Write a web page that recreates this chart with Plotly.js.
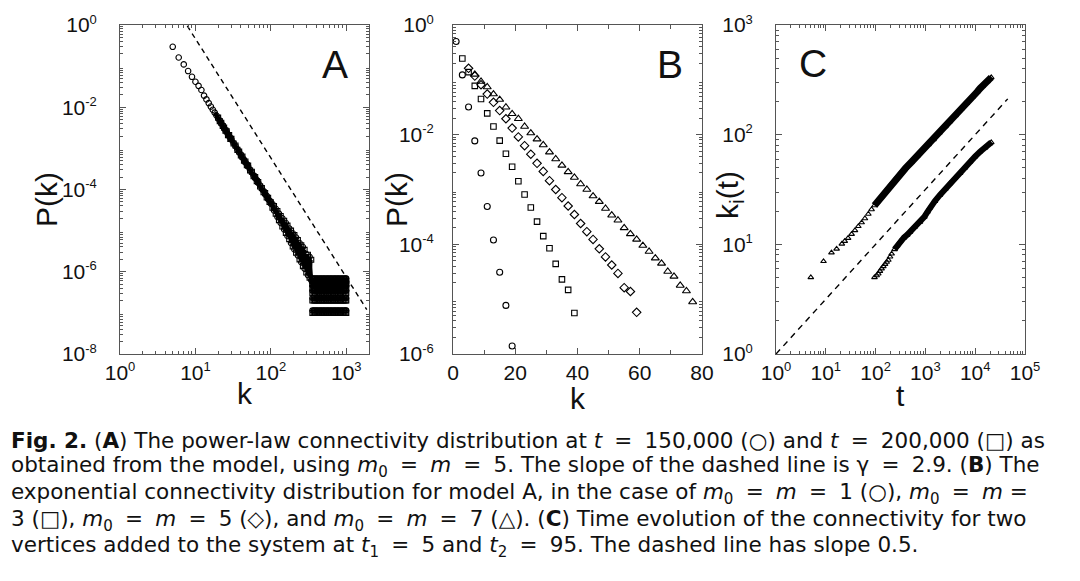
<!DOCTYPE html>
<html>
<head>
<meta charset="utf-8">
<script src="https://cdn.plot.ly/plotly-3.0.1.min.js"></script>
<style>body{margin:0;background:#fff}#chart{width:1080px;height:581px}</style>
</head>
<body>
<div id="chart"></div>
<script>
// Panel A: power-law P(k), t = 150,000 (circles) and t = 200,000 (squares)
let kA150 = [5,6,7,8,9,10,11,12,13,14,15,16,17,18,19,20,21,22,23,24,25,26,27,28,29,30,
  32,34,36,38,40,42,44,46,48,50,53,56,59,62,65,68,72,76,80,84,88,92,96,100,
  105,110,116,122,128,135,142,150,158,166,175,185,195,205,216,228,240,253,266,280,295,310,326,343];
let pA150 = [0.295,0.162,0.110,0.0759,0.0550,0.0417,0.0331,0.0263,0.0192,0.0155,0.0126,0.0104,0.0087,0.0074,0.0063,0.0054,
  0.0047,0.0041,0.0036,0.0031,0.0028,0.0025,0.0022,0.0020,0.0018,0.00163,
  0.00135,0.00113,0.00095,0.00081,0.00070,0.00060,0.00053,0.00046,0.00041,0.00036,
  3.0e-4,2.6e-4,2.2e-4,1.9e-4,1.7e-4,1.45e-4,1.25e-4,1.03e-4,9.2e-5,7.6e-5,7.0e-5,5.8e-5,5.4e-5,4.5e-5,
  4.45e-5,3.08e-5,3.39e-5,2.16e-5,2.59e-5,1.53e-5,2.0e-5,1.07e-5,1.53e-5,7.4e-6,1.13e-5,5.0e-6,
  8.6e-6,3.5e-6,6.8e-6,2.5e-6,5.0e-6,1.7e-6,4.0e-6,1.18e-6,2.7e-6,8.3e-7,2.3e-6,6.2e-7];
let kA200 = [20,21,22,23,24,25,26,27,28,29,30,32,34,36,38,40,42,44,46,48,50,
  53,56,59,62,65,68,72,76,80,84,88,92,96,100,
  105,110,116,122,128,135,142,150,158,166,175,185,195,205,216,228,240,253,266,280,295,310,326,343];
let pA200 = [0.0056,0.0046,0.0042,0.0035,0.0032,0.0027,0.0026,0.0021,0.0021,0.0017,0.0017,
  0.00131,0.00117,0.00092,0.00084,0.00067,0.00063,0.00050,0.00048,0.00039,0.00038,
  2.9e-4,2.7e-4,2.1e-4,2.0e-4,1.6e-4,1.52e-4,1.18e-4,1.09e-4,8.6e-5,8.2e-5,6.4e-5,6.3e-5,5.0e-5,4.9e-5,
  3.6e-5,3.96e-5,2.57e-5,2.99e-5,1.8e-5,2.27e-5,1.26e-5,1.74e-5,8.8e-6,1.32e-5,6.2e-6,1.0e-5,
  4.1e-6,7.8e-6,2.9e-6,5.9e-6,2.0e-6,4.4e-6,1.37e-6,3.4e-6,9.6e-7,2.6e-6,7.2e-7,1.95e-6];
// tail: degrees seen only once, twice, ... (discrete levels)
let tailK = [355,370,385,400,418,436,455,475,495,517,540,563,588,613,640,668,697,727,759,792,826,862,900,940,980,1000];
let tailP150 = [1.15e-7,2.3e-7,3.45e-7,4.6e-7,5.75e-7,6.9e-7];
let tailP200 = [1.0e-7,2.0e-7,3.0e-7,4.0e-7,5.0e-7,6.0e-7];
let slopeAk = [7.8, 1870];
let slopeAp = [0.95, 1.2e-7];

// Panel B: exponential P(k) for model A
let kB1 = [1,3,5,7,9,11,13,15,17,19];
let pB1 = [0.50,0.123,0.032,7.7e-3,2.0e-3,4.9e-4,1.2e-4,3.1e-5,7.7e-6,1.4e-6];
let kB3 = [3,5,7,9,11,13,15,17,19,21,23,25,27,29,31,33,35,37,39];
let pB3 = [0.245,0.138,0.0776,0.0447,0.0245,0.0141,7.8e-3,4.5e-3,2.6e-3,1.41e-3,8.1e-4,4.7e-4,2.6e-4,1.41e-4,8.5e-5,4.4e-5,2.3e-5,1.48e-5,5.6e-6];
let kB5 = [5,7,9,11,13,15,17,19,21,23,25,27,29,31,33,35,37,39,41,43,45,47,49,51,53,55,57,59];
let pB5 = [0.162,0.117,0.0813,0.0550,0.0389,0.0275,0.0195,0.0132,9.1e-3,6.3e-3,4.4e-3,3.0e-3,2.14e-3,1.45e-3,1.0e-3,7.1e-4,
  5.0e-4,3.5e-4,2.4e-4,1.7e-4,1.23e-4,8.3e-5,5.9e-5,4.2e-5,2.95e-5,1.62e-5,1.38e-5,5.75e-6];
let kB7 = [7,9,11,13,15,17,19,21,23,25,27,29,31,33,35,37,39,41,43,45,47,49,51,53,55,57,59,61,63,65,67,69,71,73,75,77];
let pB7 = [0.126,0.0933,0.0741,0.055,0.0437,0.0316,0.024,0.0195,0.0141,0.0107,8.3e-3,6.5e-3,4.8e-3,3.6e-3,2.75e-3,2.1e-3,
  1.66e-3,1.26e-3,1.0e-3,7.6e-4,6.0e-4,4.5e-4,3.4e-4,2.75e-4,2.0e-4,1.55e-4,1.23e-4,9.5e-5,7.4e-5,5.6e-5,4.5e-5,3.2e-5,
  2.6e-5,1.78e-5,1.41e-5,8.9e-6];

// Panel C: k_i(t) for vertices added at t1 = 5 and t2 = 95
let tC1 = [5,9,13,16.5,21,24,28,33,38.5,45,52.5,61,71.5,83,95,110,130,160,200,250,
  310,400,520,680,880,1150,1450,1900,2500,3100,4000,5200,6750,8700,11000,12500,14000,17500,20000,21000];
let kC1 = [5,7,8.4,9.1,10.1,10.7,11.4,12.4,13.4,14.6,15.8,17.2,18.9,20.8,22.6,24.6,27.2,30.8,35.0,39.5,
  44.4,49.5,56,63.5,72.5,81.5,90.5,104,119,132,150,171,194,220,246,264,278,306,325,333];
let tC2 = [95,105,113,122,132,143,155,167,180,195,210,240,270,309,370,430,491,600,778,950,
  1100,1230,1550,1960,2500,3100,3900,4950,6200,7870,9900,12500,15800,19900,21000];
let kC2 = [5.0,5.2,5.4,5.7,6.0,6.3,6.6,6.9,7.2,7.7,8.2,9.0,9.7,10.6,11.5,12.2,13.0,14.3,16.0,17.8,
  19.8,21.6,24.8,28.2,32.0,36.0,40.2,44.6,50.0,56.6,63.0,69.8,76.0,83.0,85.0];
let slopeCt = [1, 45000];
let slopeCk = [1, 212];

function levelsGrid(ks, levels) {
  let x = [], y = [];
  levels.forEach(p => ks.forEach(k => { x.push(k); y.push(p); }));
  return {x: x, y: y};
}

function minorLog(lo, hi) {
  let v = [];
  for (let d = lo; d < hi; d++) {
    for (let m = 2; m <= 9; m++) v.push(m * Math.pow(10, d));
  }
  return v;
}

// small raised exponent, as on the original axes
function pow10Text(list) {
  return list.map(e => "10<sup><span style='font-size:13px'>" + e + "</span></sup>");
}

function after(xs, ys, start) {
  let x = [], y = [];
  xs.forEach((v, i) => { if (v >= start) { x.push(v); y.push(ys[i]); } });
  return {x: x, y: y};
}

let ink = "#000";
let frame = "#555";
let tickFont = {family: "Liberation Sans, Arial, sans-serif", size: 21, color: "#111"};

function marker(symbol, size) {
  return {symbol: symbol, size: size, color: ink, line: {color: ink, width: 1.1}};
}

function axis(extra) {
  let base = {
    showline: true, linecolor: frame, linewidth: 1, mirror: "ticks",
    ticks: "inside", ticklen: 6, tickcolor: frame, tickwidth: 1,
    showgrid: false, zeroline: false, tickfont: tickFont, fixedrange: true
  };
  return Object.assign(base, extra);
}

// wide spacing round "=" as in the typeset caption
function eq(s) {
  return s.split(" = ").join("\u2005 = \u2005");
}

function createChart() {
  let tail150 = levelsGrid(tailK, tailP150);
  let tail200 = levelsGrid(tailK, tailP200);
  let band150 = after(kA150, pA150, 18);
  let thick1 = after(tC1, kC1, 90);
  let thick2 = after(tC2, kC2, 220);

  let traces = [
    // A
    {x: band150.x, y: band150.y, mode: "lines", line: {color: ink, width: 4}, xaxis: "x", yaxis: "y"},
    {x: kA200, y: pA200, mode: "lines+markers", line: {color: ink, width: 3}, marker: marker("square-open", 5), xaxis: "x", yaxis: "y"},
    {x: tail200.x, y: tail200.y, mode: "markers", marker: marker("square-open", 5), xaxis: "x", yaxis: "y"},
    {x: kA150, y: pA150, mode: "markers", marker: marker("circle-open", 5.5), xaxis: "x", yaxis: "y"},
    {x: tail150.x, y: tail150.y, mode: "markers", marker: marker("circle-open", 5), xaxis: "x", yaxis: "y"},
    {x: slopeAk, y: slopeAp, mode: "lines", line: {color: ink, width: 1.4, dash: "5px,4px"}, xaxis: "x", yaxis: "y"},
    // B
    {x: kB1, y: pB1, mode: "markers", marker: marker("circle-open", 6), xaxis: "x2", yaxis: "y2"},
    {x: kB3, y: pB3, mode: "markers", marker: marker("square-open", 5.5), xaxis: "x2", yaxis: "y2"},
    {x: kB5, y: pB5, mode: "markers", marker: marker("diamond-open", 6.5), xaxis: "x2", yaxis: "y2"},
    {x: kB7, y: pB7, mode: "markers", marker: marker("triangle-up-open", 7), xaxis: "x2", yaxis: "y2"},
    // C
    {x: thick1.x, y: thick1.y, mode: "lines", line: {color: ink, width: 7}, xaxis: "x3", yaxis: "y3"},
    {x: thick2.x, y: thick2.y, mode: "lines", line: {color: ink, width: 6}, xaxis: "x3", yaxis: "y3"},
    {x: tC1, y: kC1, mode: "markers", marker: marker("triangle-up-open", 5), xaxis: "x3", yaxis: "y3"},
    {x: tC2, y: kC2, mode: "markers", marker: marker("triangle-up-open", 5), xaxis: "x3", yaxis: "y3"},
    {x: slopeCt, y: slopeCk, mode: "lines", line: {color: ink, width: 1.4, dash: "6px,5px"}, xaxis: "x3", yaxis: "y3"}
  ];

  let yDom = [1 - 354 / 581, 1 - 25 / 581];
  let minorStyle = {ticks: "inside", ticklen: 3, tickcolor: frame, tickmode: "array"};

  let titleFont = {family: "Liberation Sans, Arial, sans-serif", size: 30, color: "#111"};
  let letterFont = {family: "Liberation Sans, Arial, sans-serif", size: 39, color: "#111"};
  let capFont = {family: "DejaVu Sans, sans-serif", size: 21.5, color: "#111"};

  function px(x) { return x / 1080; }
  function py(y) { return 1 - y / 581; }
  function label(text, x, y, font, angle) {
    return {text: text, x: px(x), y: py(y), xref: "paper", yref: "paper", showarrow: false,
      xanchor: "center", yanchor: "middle", font: font, textangle: angle || 0};
  }
  function capLine(text, y) {
    return {text: eq(text), x: px(9), y: py(y), xref: "paper", yref: "paper", showarrow: false,
      xanchor: "left", yanchor: "middle", align: "left", font: capFont};
  }

  let layout = {
    width: 1080, height: 581,
    margin: {l: 0, r: 0, t: 0, b: 0},
    paper_bgcolor: "#fff", plot_bgcolor: "#fff",
    showlegend: false,
    xaxis: axis({type: "log", range: [0, 3.301], domain: [px(120), px(369)], anchor: "y",
      tickmode: "array", tickvals: [1, 10, 100, 1000], ticktext: pow10Text([0, 1, 2, 3]),
      minor: Object.assign({tickvals: minorLog(0, 4)}, minorStyle)}),
    yaxis: axis({type: "log", range: [-8, 0], domain: yDom, anchor: "x",
      tickmode: "array", tickvals: [1, 1e-2, 1e-4, 1e-6, 1e-8], ticktext: pow10Text([0, -2, -4, -6, -8]),
      ticklabelstandoff: 18,
      minor: Object.assign({tickvals: minorLog(-8, 0)}, minorStyle)}),
    xaxis2: axis({range: [0, 80], domain: [px(453), px(702)], anchor: "y2",
      tickmode: "linear", tick0: 0, dtick: 20,
      minor: {ticks: "inside", ticklen: 4, tickcolor: frame, dtick: 10}}),
    yaxis2: axis({type: "log", range: [-6, 0], domain: yDom, anchor: "x2",
      tickmode: "array", tickvals: [1, 1e-2, 1e-4, 1e-6], ticktext: pow10Text([0, -2, -4, -6]),
      ticklabelstandoff: 14,
      minor: Object.assign({tickvals: minorLog(-6, 0)}, minorStyle)}),
    xaxis3: axis({type: "log", range: [0, 5], domain: [px(776), px(1025)], anchor: "y3",
      tickmode: "array", tickvals: [1, 10, 100, 1000, 1e4, 1e5], ticktext: pow10Text([0, 1, 2, 3, 4, 5]),
      minor: Object.assign({tickvals: minorLog(0, 5)}, minorStyle)}),
    yaxis3: axis({type: "log", range: [0, 3], domain: yDom, anchor: "x3",
      tickmode: "array", tickvals: [1, 10, 100, 1000], ticktext: pow10Text([0, 1, 2, 3]),
      ticklabelstandoff: 18,
      minor: Object.assign({tickvals: minorLog(0, 3)}, minorStyle)}),
    annotations: [
      label("A", 335, 65, letterFont),
      label("B", 670, 65, letterFont),
      label("C", 813, 63, letterFont),
      label("P(k)", 46, 200, titleFont, -90),
      label("P(k)", 396, 200, titleFont, -90),
      label("k<sub>i</sub>(t)", 729, 195, titleFont, -90),
      label("k", 245, 393, titleFont),
      label("k", 578, 398, titleFont),
      label("t", 900, 395, titleFont),
      capLine("<b>Fig. 2.</b> (<b>A</b>) The power-law connectivity distribution at <i>t</i> = 150,000 (○) and <i>t</i> = 200,000 (□) as", 440),
      capLine("obtained from the model, using <i>m</i><sub>0</sub> = <i>m</i> = 5. The slope of the dashed line is γ = 2.9. (<b>B</b>) The", 466),
      capLine("exponential connectivity distribution for model A, in the case of <i>m</i><sub>0</sub> = <i>m</i> = 1 (○), <i>m</i><sub>0</sub> = <i>m</i> =", 493),
      capLine("3 (□), <i>m</i><sub>0</sub> = <i>m</i> = 5 (◇), and <i>m</i><sub>0</sub> = <i>m</i> = 7 (△). (<b>C</b>) Time evolution of the connectivity for two", 520),
      capLine("vertices added to the system at <i>t</i><sub>1</sub> = 5 and <i>t</i><sub>2</sub> = 95. The dashed line has slope 0.5.", 546)
    ]
  };

  Plotly.newPlot("chart", traces, layout, {staticPlot: true});
}

createChart();
</script>
</body>
</html>
